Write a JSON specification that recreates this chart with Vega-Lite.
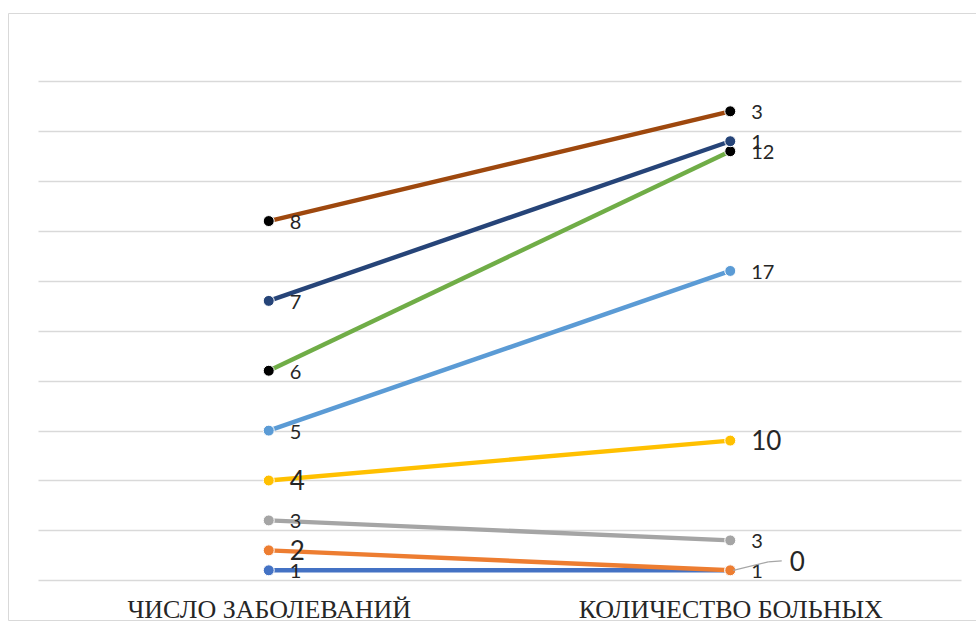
{
  "$schema": "https://vega.github.io/schema/vega-lite/v6.json",
  "width": 923,
  "height": 607,
  "autosize": {"type": "none"},
  "padding": {"left": 38, "top": 13, "right": 15, "bottom": 1},
  "background": "white",
  "config": {"view": {"stroke": null}, "font": "Lato"},
  "data": {
    "values": [
      {"series": "Ряд 1", "category": "ЧИСЛО ЗАБОЛЕВАНИЙ", "value": 1},
      {"series": "Ряд 1", "category": "КОЛИЧЕСТВО БОЛЬНЫХ", "value": 1},
      {"series": "Ряд 2", "category": "ЧИСЛО ЗАБОЛЕВАНИЙ", "value": 2},
      {"series": "Ряд 2", "category": "КОЛИЧЕСТВО БОЛЬНЫХ", "value": 0},
      {"series": "Ряд 3", "category": "ЧИСЛО ЗАБОЛЕВАНИЙ", "value": 3},
      {"series": "Ряд 3", "category": "КОЛИЧЕСТВО БОЛЬНЫХ", "value": 3},
      {"series": "Ряд 4", "category": "ЧИСЛО ЗАБОЛЕВАНИЙ", "value": 4},
      {"series": "Ряд 4", "category": "КОЛИЧЕСТВО БОЛЬНЫХ", "value": 10},
      {"series": "Ряд 5", "category": "ЧИСЛО ЗАБОЛЕВАНИЙ", "value": 5},
      {"series": "Ряд 5", "category": "КОЛИЧЕСТВО БОЛЬНЫХ", "value": 17},
      {"series": "Ряд 6", "category": "ЧИСЛО ЗАБОЛЕВАНИЙ", "value": 6},
      {"series": "Ряд 6", "category": "КОЛИЧЕСТВО БОЛЬНЫХ", "value": 12},
      {"series": "Ряд 7", "category": "ЧИСЛО ЗАБОЛЕВАНИЙ", "value": 7},
      {"series": "Ряд 7", "category": "КОЛИЧЕСТВО БОЛЬНЫХ", "value": 1},
      {"series": "Ряд 8", "category": "ЧИСЛО ЗАБОЛЕВАНИЙ", "value": 8},
      {"series": "Ряд 8", "category": "КОЛИЧЕСТВО БОЛЬНЫХ", "value": 3}
    ]
  },
  "transform": [
    {"stack": "value", "groupby": ["category"], "sort": [{"field": "series", "order": "ascending"}], "as": ["y0", "y1"]}
  ],
  "encoding": {
    "x": {
      "field": "category",
      "type": "nominal",
      "sort": ["ЧИСЛО ЗАБОЛЕВАНИЙ", "КОЛИЧЕСТВО БОЛЬНЫХ"],
      "scale": {"type": "point", "padding": 0.5},
      "axis": {
        "title": null,
        "domain": false,
        "ticks": false,
        "tickSize": 0,
        "grid": false,
        "labelAngle": 0,
        "labelLimit": 0,
        "labelPadding": -3,
        "labelBaseline": "alphabetic",
        "labelFont": "Liberation Serif",
        "labelFontSize": 26,
        "labelColor": "#262626"
      }
    },
    "y": {
      "field": "y1",
      "type": "quantitative",
      "scale": {"domain": [-3.98, 56.85], "nice": false, "zero": false},
      "axis": {
        "orient": "left",
        "offset": 30,
        "title": null,
        "labels": false,
        "domain": true,
        "domainColor": "#d9d9d9",
        "domainWidth": 1,
        "grid": true,
        "gridColor": "#d9d9d9",
        "gridWidth": 1.3,
        "gridOpacity": {"condition": {"test": "datum.value < 0 || datum.value > 50", "value": 0}, "value": 1},
        "ticks": true,
        "tickSize": -968,
        "tickColor": "#d9d9d9",
        "tickWidth": 1,
        "tickOpacity": {"condition": {"test": "datum.value < 0 || datum.value > 50", "value": 1}, "value": 0},
        "values": [-3.98, 0, 5, 10, 15, 20, 25, 30, 35, 40, 45, 50, 56.85]
      }
    }
  },
  "layer": [
    {
      "mark": {"type": "line", "strokeWidth": 4.4},
      "encoding": {
        "stroke": {
          "field": "series",
          "type": "nominal",
          "scale": {
            "domain": ["Ряд 1", "Ряд 2", "Ряд 3", "Ряд 4", "Ряд 5", "Ряд 6", "Ряд 7", "Ряд 8"],
            "range": ["#4472C4", "#ED7D31", "#A5A5A5", "#FFC000", "#5B9BD5", "#70AD47", "#264478", "#9E480E"]
          },
          "legend": null
        }
      }
    },
    {
      "mark": {"type": "circle", "size": 120, "stroke": "white", "strokeWidth": 1, "opacity": 1},
      "encoding": {
        "fill": {
          "field": "series",
          "type": "nominal",
          "scale": {
            "domain": ["Ряд 1", "Ряд 2", "Ряд 3", "Ряд 4", "Ряд 5", "Ряд 6", "Ряд 7", "Ряд 8"],
            "range": ["#4472C4", "#ED7D31", "#A5A5A5", "#FFC000", "#5B9BD5", "#000000", "#264478", "#000000"]
          },
          "legend": null
        }
      }
    },
    {
      "transform": [{"filter": "datum.series !== 'Ряд 2' && datum.series !== 'Ряд 4'"}],
      "mark": {"type": "text", "align": "left", "baseline": "middle", "dx": 21, "dy": 2, "fontSize": 20, "color": "#262626"},
      "encoding": {"text": {"field": "value", "type": "quantitative"}}
    },
    {
      "transform": [{"filter": "(datum.series === 'Ряд 2' || datum.series === 'Ряд 4') && !(datum.series === 'Ряд 2' && datum.category === 'КОЛИЧЕСТВО БОЛЬНЫХ')"}],
      "mark": {"type": "text", "align": "left", "baseline": "middle", "dx": 21, "dy": 1.5, "fontSize": 26, "color": "#262626"},
      "encoding": {"text": {"field": "value", "type": "quantitative"}}
    },
    {
      "transform": [{"filter": "datum.series === 'Ряд 2' && datum.category === 'КОЛИЧЕСТВО БОЛЬНЫХ'"}],
      "mark": {"type": "text", "align": "center", "baseline": "middle", "dx": 67, "dy": -7, "fontSize": 26, "color": "#262626"},
      "encoding": {"text": {"field": "value", "type": "quantitative"}}
    },
    {
      "transform": [{"filter": "datum.series === 'Ряд 2' && datum.category === 'КОЛИЧЕСТВО БОЛЬНЫХ'"}],
      "mark": {"type": "rule", "color": "#a6a6a6", "strokeWidth": 1.2, "xOffset": 3, "x2Offset": 38, "yOffset": 0, "y2Offset": -8.5},
      "encoding": {"x2": {"field": "category"}, "y2": {"field": "y1"}}
    },
    {
      "transform": [{"filter": "datum.series === 'Ряд 2' && datum.category === 'КОЛИЧЕСТВО БОЛЬНЫХ'"}],
      "mark": {"type": "rule", "color": "#a6a6a6", "strokeWidth": 1.2, "xOffset": 38, "x2Offset": 51.5, "yOffset": -8.5, "y2Offset": -9.5},
      "encoding": {"x2": {"field": "category"}, "y2": {"field": "y1"}}
    }
  ]
}
